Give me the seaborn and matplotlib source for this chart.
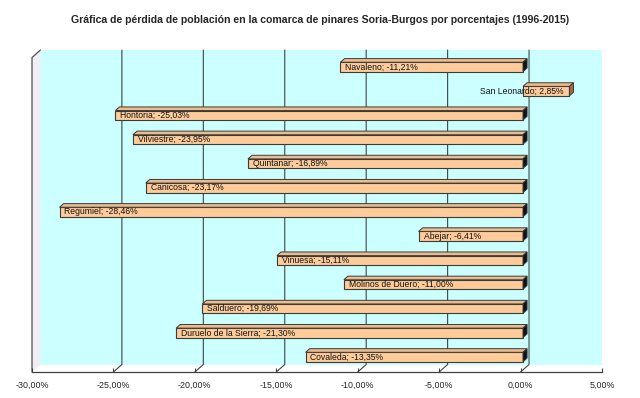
import numpy as np
import matplotlib
matplotlib.use("Agg")
import matplotlib.pyplot as plt
from matplotlib.patches import Polygon, Rectangle
import seaborn as sns

# datos: pérdida de población 1996-2015 (%)
pueblos = ["Navaleno", "San Leonardo", "Hontoria", "Vilviestre", "Quintanar",
           "Canicosa", "Regumiel", "Abejar", "Vinuesa", "Molinos de Duero",
           "Salduero", "Duruelo de la Sierra", "Covaleda"]
porcentajes = [-11.21, 2.85, -25.03, -23.95, -16.89, -23.17, -28.46,
               -6.41, -15.11, -11.00, -19.69, -21.30, -13.35]
xticks = [-30, -25, -20, -15, -10, -5, 0, 5]

sns.set_style("white")
plt.rcParams['font.family'] = ['Liberation Sans', 'DejaVu Sans']

fig = plt.figure(figsize=(6.4, 3.98), dpi=100)
ax = fig.add_axes([32 / 640, 1 - 372 / 398, 570 / 640, 322 / 398])
ax.set_facecolor("none")

XMIN, XMAX = -30, 5
YBOT, YTOP = 12.62, -0.70      # limites del eje (y invertido)
FRONT_TOP = -0.39              # techo del plano frontal
DX, DY = 0.52, 0.31            # profundidad del "3D" (unidades de datos)
BDX, BDY = 0.25, 0.15          # profundidad de cada barra
SHIFT = 0.15
grid_c = "#3c4646"

sns.barplot(x=porcentajes, y=pueblos, orient="h", color="#FFCC99",
            saturation=1, width=0.39, edgecolor="#3a3a3a", linewidth=0.8,
            ax=ax, zorder=2)
barras = list(ax.containers[0])

# pared del fondo y pared izquierda
ax.add_patch(Rectangle((XMIN + DX, FRONT_TOP - DY), XMAX - XMIN, YBOT - FRONT_TOP,
                       facecolor="#CCFFFF", edgecolor="none", zorder=0))
ax.add_patch(Polygon([(XMIN, YBOT), (XMIN, FRONT_TOP), (XMIN + DX, FRONT_TOP - DY),
                      (XMIN + DX, YBOT - DY)], closed=True,
                     facecolor="#EEEEF4", edgecolor="none", zorder=0.2))
ax.plot([XMIN, XMIN, XMIN + DX], [YBOT, FRONT_TOP, FRONT_TOP - DY],
        color="#505050", lw=0.9, zorder=0.3, clip_on=False)

# lineas de division en el fondo y en el suelo
for t in xticks[1:-1]:
    ax.plot([t + DX, t + DX, t], [FRONT_TOP - DY, YBOT - DY, YBOT],
            color=grid_c, lw=0.8, zorder=0.5, clip_on=False)

for p, nombre, v in zip(barras, pueblos, porcentajes):
    p.set_x(p.get_x() + SHIFT)
    x0 = min(p.get_x(), p.get_x() + p.get_width())
    x1 = max(p.get_x(), p.get_x() + p.get_width())
    yt = p.get_y()
    yb = p.get_y() + p.get_height()
    ax.add_patch(Polygon([(x0, yt), (x1, yt), (x1 + BDX, yt - BDY), (x0 + BDX, yt - BDY)],
                         closed=True, facecolor="#EDBB8C", edgecolor="#3a3a3a",
                         lw=0.7, zorder=2.1))
    lado = "#9C6B3E" if v > 0 else "#111111"
    ax.add_patch(Polygon([(x1, yt), (x1, yb), (x1 + BDX, yb - BDY), (x1 + BDX, yt - BDY)],
                         closed=True, facecolor=lado, edgecolor="#3a3a3a",
                         lw=0.7, zorder=2.1))
    txt = f"{nombre}; {v:.2f}%".replace(".", ",")
    yc = (yt + yb) / 2
    if v < 0:
        ax.text(x0 + 0.3, yc, txt, ha="left", va="center", fontsize=6.2,
                color="#111111", zorder=3)
    else:
        ax.text(x1 - 0.35, yc, txt, ha="right", va="center", fontsize=6.2,
                color="#111111", zorder=3)

ax.set_xlim(XMIN, XMAX)
ax.set_ylim(YBOT, YTOP)
ax.set_xticks(xticks)
ax.set_xticklabels([f"{t:.2f}%".replace(".", ",") for t in xticks])
ax.set_yticks([])
ax.set_ylabel("")
ax.tick_params(axis="x", direction="in", length=3, width=0.8, color="#404040",
               labelsize=6.4, pad=6, bottom=True)
for s in ["left", "right", "top"]:
    ax.spines[s].set_visible(False)
ax.spines["bottom"].set_color("#404040")
ax.spines["bottom"].set_linewidth(0.9)

fig.text(0.5, 0.95, "Gráfica de pérdida de población en la comarca de pinares Soria-Burgos por porcentajes (1996-2015)",
         ha="center", va="center", fontsize=7.55, fontweight="bold")

fig.savefig("out.png", dpi=100)
